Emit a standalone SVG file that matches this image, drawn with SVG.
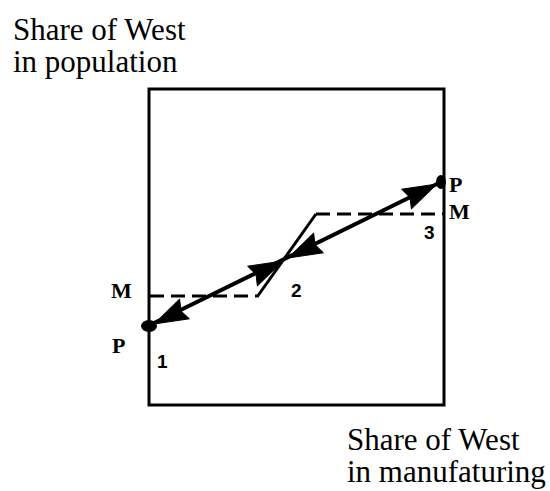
<svg xmlns="http://www.w3.org/2000/svg" width="550" height="491" viewBox="0 0 550 491">
<style>
.title{font-family:"Liberation Serif","Times New Roman",serif;font-size:31px;fill:#000}
.lbl{font-family:"Liberation Serif","Times New Roman",serif;font-size:22px;font-weight:bold;fill:#000}
.num{font-family:"Liberation Sans",Arial,sans-serif;font-size:19px;font-weight:bold;fill:#000}
.box{fill:none;stroke:#000;stroke-width:3}
.dash{fill:none;stroke:#000;stroke-width:3;stroke-dasharray:14 7}
.solid{fill:none;stroke:#000;stroke-width:3}
.line{fill:none;stroke:#000;stroke-width:4}
.head{fill:#000;stroke:#000;stroke-width:1;stroke-linejoin:round}
</style>
<rect width="550" height="491" fill="#fff"/>
<g id="axes">
<rect class="box" x="149" y="89" width="295" height="316"/>
<text class="title" x="13" y="40">Share of West</text>
<text class="title" x="13" y="72">in population</text>
<text class="title" x="347" y="450">Share of West</text>
<text class="title" x="347" y="482">in manufaturing</text>
</g>
<g id="m-curve">
<path class="dash" d="M150,296 L257,296"/>
<path class="solid" d="M257,297 L316,214"/>
<path class="dash" d="M316,214 L443,214"/>
<text class="lbl" x="111" y="298">M</text>
<text class="lbl" x="449" y="219">M</text>
</g>
<g id="node-1">
<ellipse cx="149" cy="326" rx="8" ry="6" fill="#000"/>
<text class="lbl" x="112" y="353">P</text>
<text class="num" x="157" y="368">1</text>
</g>
<g id="node-2">
<text class="num" x="291" y="297">2</text>
</g>
<g id="node-3">
<ellipse cx="441" cy="182" rx="5" ry="7" fill="#000"/>
<text class="lbl" x="449" y="192">P</text>
<text class="num" x="424" y="239">3</text>
</g>
<g id="connectors">
<path class="line" d="M150,325 L439,183"/>
<polygon class="head" points="154,324 189.4,318.8 181,311 179.6,299"/>
<polygon class="head" points="283,261 247.6,266.2 256,274.5 257.4,286"/>
<polygon class="head" points="288,258 323.4,252.8 315,244.5 313.6,233"/>
<polygon class="head" points="437,184 401.6,189.2 410,197.5 411.4,209"/>
</g>
</svg>
